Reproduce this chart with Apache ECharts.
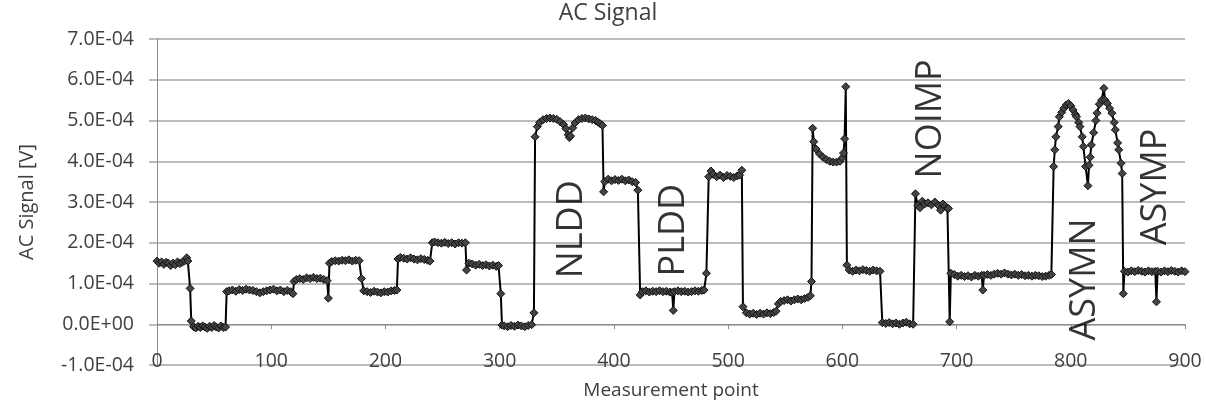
<!DOCTYPE html>
<html>
<head>
<meta charset="utf-8">
<script src="https://cdn.jsdelivr.net/npm/echarts@6/dist/echarts.min.js"></script>
<style>
html,body{margin:0;padding:0;background:#fff;}
#chart{width:1206px;height:404px;}
</style>
</head>
<body>
<div id="chart"></div>
<script>
// Chart text
const chartTitle = 'AC Signal';
const xAxisName = 'Measurement point';
const yAxisName = 'AC Signal [V]';
// y tick values in units of 1e-4 V, shown as E-notation labels
const yTickLabels = {'-1':'-1.0E-04','0':'0.0E+00','1':'1.0E-04','2':'2.0E-04','3':'3.0E-04','4':'4.0E-04','5':'5.0E-04','6':'6.0E-04','7':'7.0E-04'};
// measurement samples: [measurement point, AC signal in 1e-4 V]
const acSignal = [
[0,1.55],[2,1.5],[4,1.53],[6,1.47],[8,1.52],[10,1.5],[12,1.44],[14,1.5],[16,1.46],[18,1.53],[20,1.49],[22,1.52],[24,1.55],[26,1.63],[27,1.55],[29,0.88],[30,0.08],
[32,-0.06],[34,-0.09],[36,-0.05],[38,-0.08],[40,-0.04],[42,-0.07],[44,-0.1],[46,-0.05],[48,-0.08],[50,-0.03],[52,-0.07],[54,-0.09],[56,-0.04],[58,-0.08],[60,-0.07],[61,0.8],
[63,0.82],[66,0.84],[69,0.81],[72,0.85],[75,0.83],[78,0.86],[81,0.84],[84,0.83],[87,0.8],[90,0.77],[93,0.8],[96,0.82],[99,0.84],[102,0.86],[105,0.82],[108,0.84],[111,0.8],[114,0.83],[117,0.8],[119,0.75],
[120,1.05],[122,1.1],[125,1.12],[128,1.1],[131,1.14],[134,1.12],[137,1.15],[140,1.12],[143,1.13],[146,1.1],[149,1.07],[150,0.64],[151,1.5],
[153,1.54],[156,1.56],[159,1.55],[162,1.57],[165,1.56],[168,1.58],[171,1.55],[174,1.57],[177,1.56],[179,1.12],[181,0.82],
[184,0.8],[187,0.78],[190,0.81],[193,0.79],[196,0.77],[199,0.8],[202,0.79],[205,0.82],[208,0.83],[210,0.84],[211,1.6],
[213,1.64],[216,1.62],[219,1.6],[222,1.63],[225,1.6],[228,1.58],[231,1.61],[234,1.59],[237,1.57],[239,1.55],[241,2.0],
[243,2.02],[246,2.0],[249,1.99],[252,2.01],[255,1.98],[258,2.0],[261,1.97],[264,2.0],[267,1.99],[270,2.0],[271,1.33],[273,1.5],
[276,1.48],[279,1.45],[282,1.47],[285,1.44],[288,1.46],[291,1.43],[294,1.45],[297,1.42],[299,1.44],[301,0.75],[302,-0.02],
[304,-0.04],[307,-0.06],[310,-0.03],[313,-0.05],[316,-0.02],[319,-0.04],[322,-0.06],[325,-0.03],[328,-0.01],[330,0.28],[331,4.6],
[333,4.85],[335,4.95],[338,5.02],[341,5.05],[344,5.06],[347,5.05],[350,5.03],[353,4.97],[356,4.9],[358,4.8],[360,4.65],[361,4.58],[362,4.62],[364,4.82],[366,4.94],[369,5.02],[372,5.05],[375,5.06],[378,5.04],[381,5.02],[384,5.0],[386,4.96],[388,4.92],[390,4.88],[391,3.25],[392,3.5],
[395,3.56],[398,3.52],[401,3.55],[404,3.53],[407,3.56],[410,3.52],[413,3.54],[416,3.5],[419,3.48],[421,3.29],[423,0.72],
[425,0.8],[428,0.82],[431,0.79],[434,0.81],[437,0.8],[440,0.82],[443,0.8],[446,0.81],[449,0.79],[451,0.78],[452,0.34],[453,0.8],[456,0.82],[459,0.8],[462,0.81],[465,0.79],[468,0.8],[471,0.82],[474,0.81],[477,0.83],[479,0.84],[481,1.25],[483,3.62],
[485,3.76],[487,3.68],[490,3.62],[493,3.66],[496,3.6],[499,3.65],[502,3.63],[505,3.6],[508,3.64],[510,3.66],[512,3.78],[513,0.43],
[516,0.28],[519,0.25],[522,0.27],[525,0.24],[528,0.27],[531,0.25],[534,0.28],[537,0.26],[540,0.29],[542,0.32],[544,0.5],[546,0.56],
[549,0.58],[552,0.6],[555,0.57],[558,0.6],[561,0.62],[564,0.6],[567,0.63],[570,0.66],[572,0.7],[573,1.05],[574,4.81],[575,4.48],
[577,4.3],[580,4.18],[583,4.1],[586,4.04],[589,4.0],[592,3.98],[595,3.98],[598,4.0],[600,4.08],[601,4.2],[602,4.55],[603,5.83],[604,1.45],[606,1.33],
[609,1.3],[612,1.33],[615,1.31],[618,1.34],[621,1.32],[624,1.3],[627,1.33],[630,1.31],[633,1.3],[635,0.04],
[638,0.02],[641,0.04],[644,0.01],[647,0.03],[650,0.0],[653,0.03],[656,0.05],[659,0.01],[662,0.0],[664,3.2],
[666,2.92],[668,2.86],[670,3.02],[672,2.95],[675,2.98],[678,2.93],[681,3.0],[684,2.92],[686,2.8],[688,2.95],[690,2.9],[692,2.85],[693,2.84],[694,0.06],[695,1.25],
[698,1.22],[701,1.18],[704,1.2],[707,1.17],[710,1.19],[713,1.16],[716,1.2],[719,1.18],[722,1.2],[723,0.84],[724,1.2],[727,1.22],[730,1.2],[733,1.23],[736,1.25],[739,1.23],[742,1.26],[745,1.23],[748,1.21],[751,1.23],[754,1.2],[757,1.22],[760,1.19],[763,1.2],[766,1.18],[769,1.2],[772,1.19],[775,1.17],[778,1.18],[781,1.2],[783,1.22],[785,3.87],
[786,4.28],[787,4.6],[789,4.85],[790,5.09],[792,5.2],[794,5.3],[796,5.38],[798,5.42],[800,5.36],[802,5.26],[804,5.15],[805,5.09],[807,4.95],[808,4.85],[810,4.6],[811,4.36],[813,3.87],[815,3.4],[816,3.9],[817,4.1],[818,4.4],[820,4.7],[822,5.0],[823,5.18],[825,5.4],[827,5.5],[829,5.79],[830,5.5],[832,5.42],[834,5.3],[836,5.18],[838,4.95],[839,4.77],[841,4.45],[842,4.28],[844,3.95],[845,3.7],[846,0.75],[847,1.3],
[850,1.28],[853,1.31],[856,1.29],[859,1.32],[862,1.3],[865,1.28],[868,1.31],[871,1.29],[874,1.3],[875,0.55],[876,1.3],[879,1.28],[882,1.31],[885,1.29],[888,1.32],[891,1.3],[894,1.28],[897,1.31],[900,1.29]
];
// rotated region annotations: [measurement point, signal (1e-4 V), label]
const annotations = [
[363,2.33,'NLDD'],
[452,2.31,'PLDD'],
[677,5.04,'NOIMP'],
[812.5,1.1,'ASYMN'],
[874,3.37,'ASYMP']
];

const FONT = '"Open Sans", Lato, sans-serif';
const chart = echarts.init(document.getElementById('chart'), null, {renderer:'canvas'});
chart.setOption({
  animation:false,
  backgroundColor:'#fff',
  title:{text:chartTitle,left:603,top:-3,textAlign:'center',
    textStyle:{fontFamily:FONT,fontSize:23,fontWeight:'normal',color:'#404040'}},
  grid:{left:157,right:21,top:39,bottom:39,containLabel:false,outerBoundsMode:'none'},
  xAxis:{type:'value',min:0,max:900,interval:100,
    name:xAxisName,nameLocation:'middle',nameGap:16,
    nameTextStyle:{fontFamily:FONT,fontSize:19,color:'#404040'},
    axisLine:{show:true,onZero:true,lineStyle:{color:'#8c8c8c',width:1}},
    axisTick:{show:true,length:5,lineStyle:{color:'#8c8c8c'}},
    axisLabel:{show:true,margin:-14,fontFamily:FONT,fontSize:19.5,color:'#404040'},
    splitLine:{show:false}},
  yAxis:{type:'value',min:-1,max:7,interval:1,
    name:yAxisName,nameLocation:'middle',nameGap:120,nameRotate:90,
    nameTextStyle:{fontFamily:FONT,fontSize:20,color:'#404040'},
    axisLine:{show:true,lineStyle:{color:'#8c8c8c',width:1}},
    axisTick:{show:true,length:8,lineStyle:{color:'#a6a6a6',width:1.5}},
    axisLabel:{margin:23,fontFamily:FONT,fontSize:19.5,color:'#404040',
      formatter:v=>yTickLabels[String(Math.round(v))]},
    splitLine:{show:true,lineStyle:{color:'#a6a6a6',width:1.5}}},
  series:[
    {type:'line',data:acSignal,showSymbol:true,symbol:'diamond',symbolSize:8,
      lineStyle:{color:'#000',width:2},
      itemStyle:{color:'#444',borderColor:'#111',borderWidth:1},
      z:3},
    {type:'scatter',data:annotations,symbolSize:0,silent:true,z:5,
      label:{show:true,position:'inside',rotate:90,align:'center',verticalAlign:'middle',
        formatter:p=>p.data[2],fontFamily:FONT,fontSize:36,color:'#000'}}
  ]
});
</script>
</body>
</html>
